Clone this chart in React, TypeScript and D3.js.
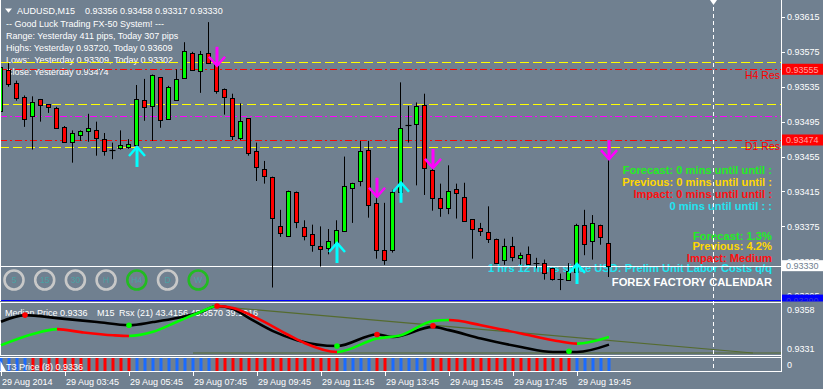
import React from "react";
import * as d3 from "d3";

// ---------- DATA ----------
const opens = [0.93508,0.93554,0.93539,0.93523,0.93501,0.93521,0.93515,0.93511,0.93489,0.93472,0.93479,0.93485,0.93485,0.93475,0.93462,0.93464,0.93466,0.93468,0.9352,0.93512,0.93546,0.93498,0.9352,0.93545,0.93574,0.93552,0.93574,0.93562,0.93532,0.93522,0.93477,0.93499,0.93461,0.93441,0.93432,0.93376,0.93364,0.93414,0.93374,0.93366,0.93352,0.9335,0.93354,0.93369,0.93419,0.93427,0.93463,0.93402,0.93348,0.93347,0.93415,0.93491,0.93492,0.93514,0.9344,0.93408,0.93397,0.93418,0.93409,0.93383,0.93373,0.93369,0.9336,0.93337,0.93353,0.93339,0.93343,0.93333,0.93333,0.93327,0.93315,0.93314,0.93323,0.93377,0.93358,0.93377,0.93356];
const highs = [0.93566,0.93562,0.93542,0.93525,0.93524,0.93521,0.93515,0.93512,0.9349,0.93485,0.93485,0.93504,0.93495,0.93482,0.93471,0.93485,0.93475,0.93537,0.93544,0.93549,0.93546,0.93536,0.93555,0.93586,0.93575,0.93576,0.93609,0.93562,0.93533,0.93527,0.93516,0.93499,0.93471,0.9345,0.93432,0.93394,0.93416,0.93415,0.93382,0.93377,0.93375,0.93372,0.93382,0.93455,0.93425,0.93473,0.93473,0.93415,0.93402,0.93417,0.9354,0.93513,0.93517,0.93527,0.9345,0.93424,0.93445,0.93424,0.93425,0.93383,0.93379,0.93398,0.93361,0.93361,0.93363,0.93345,0.93352,0.93339,0.93337,0.93327,0.93321,0.93333,0.93378,0.93394,0.93388,0.93377,0.93458];
const lows = [0.93506,0.93535,0.93519,0.93489,0.93463,0.93495,0.93505,0.93487,0.93471,0.93448,0.93473,0.93472,0.93456,0.93456,0.93452,0.93463,0.93464,0.93466,0.93496,0.93473,0.93488,0.93497,0.93519,0.93545,0.93553,0.93528,0.93561,0.93527,0.93503,0.93474,0.93474,0.93456,0.93427,0.93424,0.93305,0.93363,0.93363,0.93373,0.93359,0.93346,0.93329,0.93343,0.93346,0.93369,0.93379,0.93421,0.93385,0.93338,0.93331,0.93345,0.93414,0.93471,0.93422,0.93411,0.93393,0.93386,0.93389,0.93384,0.93381,0.93338,0.93364,0.93356,0.93332,0.93331,0.93335,0.93331,0.93331,0.93327,0.93314,0.93313,0.93302,0.93313,0.93322,0.93342,0.93337,0.93354,0.93317];
const closes = [0.93558,0.93538,0.93522,0.93498,0.93517,0.93514,0.93512,0.93488,0.93472,0.93482,0.93484,0.93488,0.93476,0.93461,0.93461,0.93468,0.93469,0.93521,0.93512,0.93548,0.93497,0.93535,0.93544,0.93576,0.93555,0.93572,0.93562,0.9353,0.93523,0.93479,0.93496,0.93459,0.93443,0.93433,0.93385,0.93368,0.93416,0.9338,0.93364,0.93353,0.93348,0.93358,0.93371,0.93421,0.93425,0.93461,0.934,0.93348,0.93337,0.93414,0.93488,0.9349,0.93513,0.93442,0.93408,0.93396,0.93416,0.93413,0.93382,0.93372,0.93369,0.93361,0.93333,0.93353,0.9334,0.93342,0.93332,0.93332,0.93321,0.93314,0.93314,0.93324,0.93377,0.93355,0.93379,0.93363,0.9333];

const priceTicks = [0.93615,0.93575,0.93535,0.93495,0.93455,0.93415,0.93375,0.93335,0.93295];
const levelPrices = [0.93563,0.93555,0.93515,0.93501,0.93474,0.93466];
const levelKinds = ["yellow","red","yellow","magenta","red","yellow"];
const resLabels = [{ price: 0.93555, text: "H4 Res" }, { price: 0.93474, text: "D1 Res" }];
const bidPrice = 0.9333;
const bluePrice = 0.9329;

const upArrowBars = [17, 42, 50, 72];
const upArrowPrices = [0.93466, 0.93356, 0.93425, 0.93332];
const downArrowBars = [27, 47, 54, 76];
const downArrowPrices = [0.93559, 0.93409, 0.93442, 0.93452];

const timeTickBars = [8,16,24,32,40,48,56,64,72];
const timeTickLabels = ["29 Aug 03:45","29 Aug 05:45","29 Aug 07:45","29 Aug 09:45","29 Aug 11:45","29 Aug 13:45","29 Aug 15:45","29 Aug 17:45","29 Aug 19:45"];

const headerLines = [
  "-- Good Luck Trading FX-50 System! ---",
  "Range: Yesterday 411 pips, Today 307 pips",
  "Highs: Yesterday 0.93720, Today 0.93609",
  "Lows:  Yesterday 0.93309, Today 0.93302",
  "Close: Yesterday 0.93474",
];

const calendarTexts = [
  "Forecast: 0 mins until until :",
  "Previous: 0 mins until until :",
  "Impact: 0 mins until until :",
  "0 mins until until : :",
  "Forecast: 1.3%",
  "Previous: 4.2%",
  "Impact: Medium",
  "1 hrs 12 mins since USD: Prelim Unit Labor Costs q/q",
  "FOREX FACTORY CALENDAR",
];
const calendarKinds = ["green","gold","red","cyan","green","gold","red","cyan","white"];

const tfLabels = ["5","15","30","H","H4","D","W"];
const tfActive = [false,false,false,false,true,false,true];

// Sub window 1 (Median price / Rsx)
const blackIdx = [0,3,7,12,16,19,22,25,27,29,31,34,37,42,47,49,54,56,60,65,69,72,76];
const blackVal = [0.93497,0.93544,0.93523,0.93495,0.93473,0.93495,0.93523,0.93566,0.93608,0.93587,0.93523,0.93431,0.93367,0.93326,0.93407,0.9339,0.93461,0.93438,0.93379,0.93319,0.93284,0.93284,0.93336];
const rsxIdx = [0,4,7,10,14,16,19,22,25,27,29,32,36,38,42,47,50,54,56,60,65,69,72,76];
const rsxVal = [0.93331,0.9341,0.93445,0.93424,0.93402,0.93397,0.93426,0.93497,0.93568,0.93608,0.93594,0.93523,0.93402,0.93346,0.93284,0.93379,0.93402,0.93502,0.93509,0.93473,0.93414,0.93367,0.93343,0.9339];
const rsxSwitchBars = [7,16,27,42,56,72];
const dotBars = [3,16,27,42,47,54,71];
const dotVals = [0.93544,0.93473,0.93608,0.93326,0.93407,0.93468,0.93289];
const dotUp = [false,true,false,true,false,false,true];
const trendStart = { bar: 26.5, value: 0.93608 };
const trendEnd = { bar: 94, value: 0.93277 };
const flatLine = { fromBar: 24, value: 0.93277 };
const subTicks = [0.9358, 0.9331];

// Sub window 2 (T3 direction per bar: 1 up/blue, -1 down/red)
const t3Dir = [1,1,1,1,-1,-1,-1,-1,-1,-1,-1,-1,-1,-1,-1,-1,-1,1,1,1,1,1,1,1,1,1,1,-1,-1,-1,-1,-1,-1,-1,-1,-1,-1,-1,-1,-1,-1,-1,-1,1,1,1,1,-1,-1,1,1,1,1,1,-1,-1,-1,-1,-1,-1,-1,-1,-1,-1,-1,-1,-1,-1,-1,-1,-1,-1,1,1,1,1,1];

// ---------- STYLE ----------
const BG = "#708090";
const FONT = "'Liberation Sans', Arial, sans-serif";
const levelStyle: Record<string, { c: string; d: string }> = {
  yellow: { c: "#ffff00", d: "9,4" },
  red: { c: "#ff0000", d: "7,3,2,3" },
  magenta: { c: "#ff00ff", d: "7,3,2,3" },
};
const calColor: Record<string, string> = {
  green: "#22ee22", gold: "#ffd700", red: "#ff1010", cyan: "#22e4f0", white: "#ffffff",
};
const calBaselines = [174, 186, 197.5, 209.5, 240, 250, 261.5, 271.5, 286];

export default function App() {
  const W = 823, H = 389;
  const AX = 781; // right edge of plot
  const xB = d3.scaleLinear().domain([0, 76]).range([1, 609]);
  const yP = d3.scaleLinear().domain([0.9329, 0.93615]).range([300.6, 16.9]);
  const yS = d3.scaleLinear().domain([0.9331, 0.9358]).range([348.3, 310]);

  const lineGen = d3.line<[number, number]>().x(d => xB(d[0])).y(d => yS(d[1])).curve(d3.curveMonotoneX);
  const blackPath = lineGen(blackIdx.map((k, i) => [k, blackVal[i]] as [number, number])) || "";
  const rsxPath = lineGen(rsxIdx.map((k, i) => [k, rsxVal[i]] as [number, number])) || "";
  const bounds = [0, ...rsxSwitchBars, 76];
  const segs = bounds.slice(0, -1).map((a, i) => ({ a, b: bounds[i + 1], up: i % 2 === 0 }));

  const txt = { fontFamily: FONT, fontSize: 9, fill: "#fff" } as const;

  return (
    <svg width={W} height={H} style={{ position: "absolute", left: 0, top: 0, display: "block" }}>
      <defs>
        <clipPath id="mainClip"><rect x={0} y={0} width={AX} height={301.5} /></clipPath>
        <clipPath id="sub1Clip"><rect x={0} y={303} width={AX} height={52} /></clipPath>
        <clipPath id="axClip"><rect x={AX + 1} y={0} width={W - AX} height={301.5} /></clipPath>
        {segs.map((s, i) => {
          const x0 = i === 0 ? -5 : xB(s.a);
          const x1 = i === segs.length - 1 ? xB(s.b) + 5 : xB(s.b);
          return (
            <clipPath id={`seg${i}`} key={i}>
              <rect x={x0} y={300} width={x1 - x0} height={60} />
            </clipPath>
          );
        })}
      </defs>
      <rect x={0} y={0} width={W} height={H} fill={BG} />

      {/* MAIN PANEL */}
      <g clipPath="url(#mainClip)">
        <path d="M5,8.5 L12,8.5 L8.5,12.8 Z" fill="#fff" />
        <text x={17} y={14} {...txt}>AUDUSD,M15</text>
        <text x={85} y={14} {...txt}>0.93356 0.93458 0.93317 0.93330</text>
        {headerLines.map((t, i) => (
          <text key={i} x={6} y={27 + i * 12} {...txt} style={{ whiteSpace: "pre" }}>{t}</text>
        ))}

        {calendarTexts.map((t, i) => (
          <text key={i} x={772} y={calBaselines[i]} textAnchor="end" fontFamily={FONT} fontWeight="bold" fontSize={11.2} fill={calColor[calendarKinds[i]]}>{t}</text>
        ))}

        {tfLabels.map((t, i) => {
          const cx = 14 + i * 30.7;
          return (
            <g key={t}>
              <circle cx={cx} cy={280} r={9.5} fill="none" stroke={tfActive[i] ? "#22bb22" : "#c8c8c8"} strokeWidth={2.6} />
              <text x={cx} y={283.2} textAnchor="middle" fontFamily={FONT} fontSize={8.5} fill="#4aa2a4">{t}</text>
            </g>
          );
        })}

        {levelPrices.map((p, i) => {
          const s = levelStyle[levelKinds[i]];
          const yy = Math.round(yP(p)) + 0.5;
          return <line key={i} x1={0} x2={AX} y1={yy} y2={yy} stroke={s.c} strokeDasharray={s.d} strokeWidth={1} />;
        })}
        {resLabels.map((r, i) => (
          <text key={i} x={745} y={yP(r.price) + 10} fontFamily={FONT} fontSize={10.5} fill="#ff0000">{r.text}</text>
        ))}
        <line x1={0} x2={AX} y1={Math.round(yP(bidPrice)) + 0.5} y2={Math.round(yP(bidPrice)) + 0.5} stroke="#fff" />
        <line x1={0} x2={AX} y1={300.5} y2={300.5} stroke="#0000ff" strokeWidth={1.2} />

        {opens.map((o, k) => {
          const c = closes[k];
          const cx = xB(k);
          const top = yP(Math.max(o, c));
          const bot = yP(Math.min(o, c));
          const doji = Math.abs(o - c) < 0.000015;
          return (
            <g key={k}>
              <line x1={cx - 0.5} x2={cx - 0.5} y1={yP(highs[k])} y2={yP(lows[k])} stroke="#000" strokeWidth={1} />
              {doji ? (
                <line x1={cx - 3.5} x2={cx + 2.5} y1={Math.round(top) + 0.5} y2={Math.round(top) + 0.5} stroke="#000" strokeWidth={1.2} />
              ) : (
                <rect x={cx - 2.5} y={Math.round(top) + 0.5} width={4} height={Math.max(1, Math.round(bot - top))} fill={c >= o ? "#00ff00" : "#ff0000"} stroke="#000" strokeWidth={1} />
              )}
            </g>
          );
        })}

        {downArrowBars.map((k, i) => {
          const cx = xB(k), ty = yP(downArrowPrices[i]);
          return (
            <g key={"d" + i} stroke="#ff00ff" fill="none">
              <line x1={cx} x2={cx} y1={ty - 19} y2={ty} strokeWidth={3} />
              <path d={`M${cx - 8},${ty - 9} L${cx},${ty} L${cx + 8},${ty - 9}`} strokeWidth={2.5} />
            </g>
          );
        })}
        {upArrowBars.map((k, i) => {
          const cx = xB(k), ty = yP(upArrowPrices[i]);
          return (
            <g key={"u" + i} stroke="#00ffff" fill="none">
              <line x1={cx} x2={cx} y1={ty} y2={ty + 20} strokeWidth={3} />
              <path d={`M${cx - 8},${ty + 9} L${cx},${ty} L${cx + 8},${ty + 9}`} strokeWidth={2.5} />
            </g>
          );
        })}
      </g>

      <line x1={0.5} x2={0.5} y1={0} y2={301} stroke="#fff" />
      <line x1={AX + 0.5} x2={AX + 0.5} y1={0} y2={372} stroke="#fff" />

      {/* price axis */}
      <g clipPath="url(#axClip)">
        {priceTicks.map(p => (
          <g key={p}>
            <line x1={AX} x2={AX + 4} y1={Math.round(yP(p)) + 0.5} y2={Math.round(yP(p)) + 0.5} stroke="#fff" />
            <text x={787} y={yP(p) + 3.2} {...txt}>{p.toFixed(5)}</text>
          </g>
        ))}
        {resLabels.map((r, i) => (
          <g key={i}>
            <rect x={AX + 1} y={yP(r.price) - 5.5} width={W - AX} height={11} fill="#ff0000" />
            <text x={786} y={yP(r.price) + 3.3} fontFamily={FONT} fontSize={9} fill="#ffa0a0">{r.price.toFixed(5)}</text>
          </g>
        ))}
        <rect x={AX + 1} y={yP(bidPrice) - 5.5} width={W - AX} height={11} fill="#fff" />
        <text x={786} y={yP(bidPrice) + 3.3} fontFamily={FONT} fontSize={9} fill="#708090">{bidPrice.toFixed(5)}</text>
        <rect x={AX + 1} y={yP(bluePrice) - 6} width={W - AX} height={9} fill="#0000ff" />
        <text x={786} y={yP(bluePrice) + 3} fontFamily={FONT} fontSize={9} fill="#3a3ad0">{bluePrice.toFixed(5)}</text>
      </g>

      {/* SUB WINDOW 1 */}
      <rect x={0.5} y={302.5} width={AX} height={53} fill={BG} stroke="#fff" />
      <g clipPath="url(#sub1Clip)">
        <text x={5} y={315.5} {...txt}>Median Price 0.9336</text>
        <text x={97} y={315.5} {...txt}>M15</text>
        <text x={119} y={315.5} {...txt}>Rsx (21) 43.4156 45.8570 39.1016</text>
        <line x1={xB(flatLine.fromBar)} x2={AX} y1={yS(flatLine.value)} y2={yS(flatLine.value)} stroke="#556b2f" strokeWidth={1.2} />
        <line x1={xB(trendStart.bar)} x2={xB(trendEnd.bar)} y1={yS(trendStart.value)} y2={yS(trendEnd.value)} stroke="#556b2f" strokeWidth={1.2} />
        <path d={blackPath} fill="none" stroke="#000" strokeWidth={2.6} />
        {segs.map((s, i) => (
          <path key={i} d={rsxPath} fill="none" stroke={s.up ? "#00ff00" : "#ff0000"} strokeWidth={2.6} clipPath={`url(#seg${i})`} />
        ))}
        {dotBars.map((k, i) => (
          <circle key={i} cx={xB(k)} cy={yS(dotVals[i])} r={2.8} fill={dotUp[i] ? "#00ff00" : "#ff0000"} />
        ))}
      </g>
      {subTicks.map(v => (
        <text key={v} x={787} y={yS(v) + 3.2} {...txt}>{v.toFixed(4)}</text>
      ))}

      {/* SUB WINDOW 2 */}
      <rect x={0.5} y={357.5} width={AX} height={14} fill={BG} stroke="#fff" />
      {t3Dir.map((d, k) => (
        <rect key={k} x={xB(k) - 1.5} y={358} width={3} height={13} fill={d > 0 ? "#1a6bff" : "#ff0000"} />
      ))}
      <path d="M0.5,361 L6,371 L0.5,371 Z" fill="#fff" />
      <text x={6} y={369.5} {...txt}>T3 Price (8) 0.9336</text>
      <text x={787} y={368} {...txt}>0</text>

      <line x1={713.5} x2={713.5} y1={0} y2={372} stroke="#fff" strokeDasharray="4,3" />
      <path d="M710,0 L717,0 L713.5,5 Z" fill="#fff" />

      {/* TIME AXIS */}
      <line x1={1.5} x2={1.5} y1={372} y2={376} stroke="#fff" />
      <text x={2} y={385} {...txt}>29 Aug 2014</text>
      {timeTickBars.map((k, i) => (
        <g key={k}>
          <line x1={xB(k) + 0.5} x2={xB(k) + 0.5} y1={372} y2={376} stroke="#fff" />
          <text x={xB(k) + 1} y={385} {...txt}>{timeTickLabels[i]}</text>
        </g>
      ))}
    </svg>
  );
}
